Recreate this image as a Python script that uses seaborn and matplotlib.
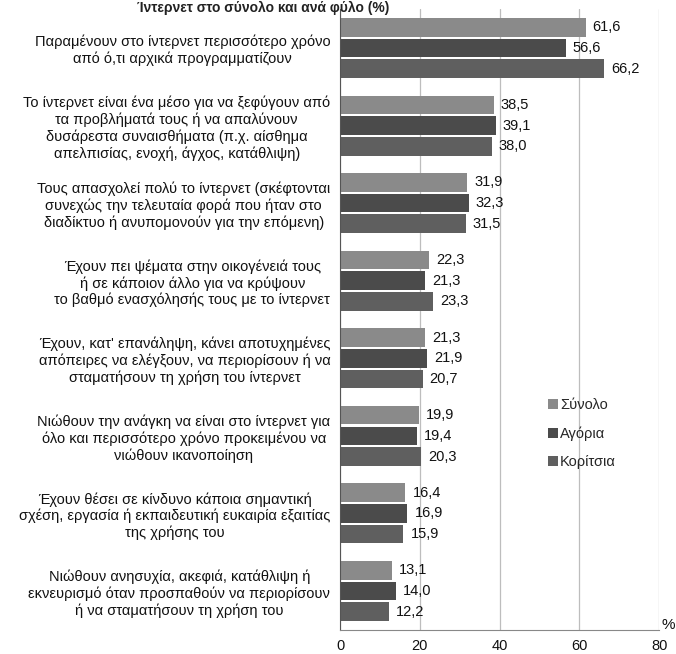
import numpy as np
import pandas as pd
import matplotlib
matplotlib.use("Agg")
import matplotlib.pyplot as plt
import seaborn as sns

# Data
statements = [
    "Παραμένουν στο ίντερνετ περισσότερο χρόνο\nαπό ό,τι αρχικά προγραμματίζουν",
    "Το ίντερνετ είναι ένα μέσο για να ξεφύγουν από\nτα προβλήματά τους ή να απαλύνουν\nδυσάρεστα συναισθήματα (π.χ. αίσθημα\nαπελπισίας, ενοχή, άγχος, κατάθλιψη)",
    "Τους απασχολεί πολύ το ίντερνετ (σκέφτονται\nσυνεχώς την τελευταία φορά που ήταν στο\nδιαδίκτυο ή ανυπομονούν για την επόμενη)",
    "Έχουν πει ψέματα στην οικογένειά τους\nή σε κάποιον άλλο για να κρύψουν\nτο βαθμό ενασχόλησής τους με το ίντερνετ",
    "Έχουν, κατ' επανάληψη, κάνει αποτυχημένες\nαπόπειρες να ελέγξουν, να περιορίσουν ή να\nσταματήσουν τη χρήση του ίντερνετ",
    "Νιώθουν την ανάγκη να είναι στο ίντερνετ για\nόλο και περισσότερο χρόνο προκειμένου να\nνιώθουν ικανοποίηση",
    "Έχουν θέσει σε κίνδυνο κάποια σημαντική\nσχέση, εργασία ή εκπαιδευτική ευκαιρία εξαιτίας\nτης χρήσης του",
    "Νιώθουν ανησυχία, ακεφιά, κατάθλιψη ή\nεκνευρισμό όταν προσπαθούν να περιορίσουν\nή να σταματήσουν τη χρήση του",
]
groups = ["Σύνολο", "Αγόρια", "Κορίτσια"]
total = [61.6, 38.5, 31.9, 22.3, 21.3, 19.9, 16.4, 13.1]
boys = [56.6, 39.1, 32.3, 21.3, 21.9, 19.4, 16.9, 14.0]
girls = [66.2, 38.0, 31.5, 23.3, 20.7, 20.3, 15.9, 12.2]
x_ticks = [0, 20, 40, 60, 80]
colors = ["#8a8a8a", "#4b4b4b", "#5f5f5f"]

df = pd.DataFrame({
    "statement": statements * 3,
    "group": [g for g in groups for _ in statements],
    "value": total + boys + girls,
})

sns.set_style("white")
plt.rcParams["font.family"] = ["Liberation Sans Narrow", "Liberation Sans", "DejaVu Sans"]
sans = ["Liberation Sans", "DejaVu Sans"]

fig = plt.figure(figsize=(6.76, 6.54), dpi=100)
ax = fig.add_axes([0.503, 0.037, 0.472, 0.949])

sns.barplot(data=df, y="statement", x="value", hue="group", orient="h",
            palette=colors, width=0.8, gap=0.1, order=statements,
            hue_order=groups, ax=ax, saturation=1, linewidth=0)

for cont in ax.containers:
    ax.bar_label(cont, labels=[f"{v:.1f}".replace(".", ",") for v in cont.datavalues],
                 padding=5, fontsize=10.5, family=sans, color="#111111")

ax.set_xlim(0, 80)
ax.set_ylim(len(statements) - 0.5, -0.5)
ax.set_xticks(x_ticks)
ax.set_xticklabels([str(t) for t in x_ticks], fontsize=10.5, family=sans, color="#111111")
ax.tick_params(axis="x", length=5, direction="inout", color="#555555", pad=4)
ax.set_yticks(range(len(statements)))
ax.set_yticklabels(statements, fontsize=10.5, multialignment="center", color="#111111")
ax.tick_params(axis="y", which="major", length=0, pad=7)
ax.set_yticks(np.arange(-0.5, len(statements), 1), minor=True)
ax.tick_params(axis="y", which="minor", length=4, color="#555555")
ax.set_xlabel("")
ax.set_ylabel("")
ax.xaxis.grid(True, color="#bdbdbd", linewidth=0.9)
ax.set_axisbelow(True)
for side in ["top", "right"]:
    ax.spines[side].set_visible(False)
ax.spines["left"].set_color("#555555")
ax.spines["bottom"].set_color("#888888")

ax.legend(title=None, frameon=False, loc="upper left", bbox_to_anchor=(0.61, 0.395),
          handlelength=0.7, handleheight=0.7, handletextpad=0.15, labelspacing=1.0,
          prop={"family": sans, "size": 10.5})

fig.text(0.988, 0.033, "%", fontsize=11, ha="center", va="bottom", family=sans,
         color="#111111")
fig.text(0.39, 0.999, "Ίντερνετ στο σύνολο και ανά φύλο (%)", fontsize=10,
         weight="bold", ha="center", va="top", color="#222222", family=sans)

fig.savefig("out.png", dpi=100)
